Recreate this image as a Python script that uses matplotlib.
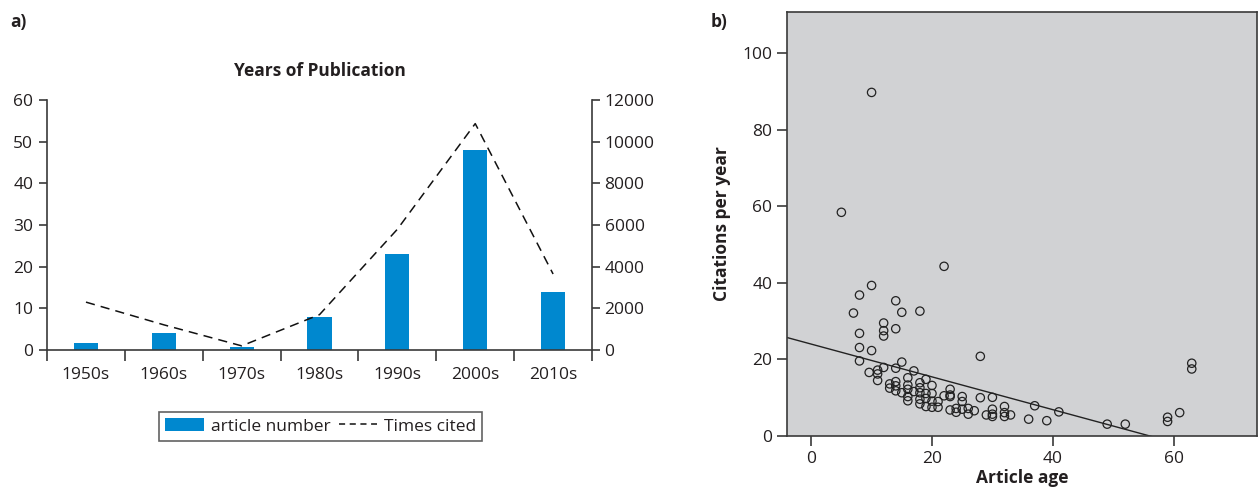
import matplotlib
matplotlib.use("Agg")
import matplotlib.pyplot as plt
import numpy as np
from matplotlib.patches import Patch
from matplotlib.lines import Line2D

plt.rcParams['font.family'] = ['Open Sans', 'DejaVu Sans']
plt.rcParams['font.size'] = 12.5

# a) dati
decades = ["1950s", "1960s", "1970s", "1980s", "1990s", "2000s", "2010s"]
article_number = [1.8, 4, 0.8, 8, 23, 48, 14]
times_cited = [2300, 1210, 200, 1700, 5800, 10870, 3650]

# b) dati
article_age = [10, 5, 22, 10, 8, 14, 7, 15, 18, 12, 12, 12, 14, 8, 8, 10, 8, 28, 15,
               12, 14, 9.6, 11, 11, 11, 17, 16, 19, 14, 13, 18, 20, 23, 14, 16, 13,
               14, 15, 16, 17, 18, 18, 16, 16, 19, 19, 18, 18, 19, 20, 20, 20, 21, 21,
               22, 23, 23, 23, 24, 24, 25, 25, 25, 26, 26, 27, 28, 29, 30, 30, 30, 30,
               32, 32, 32, 33, 36, 37, 39, 41, 49, 52, 59, 59, 61, 63, 63]
citations_per_year = [89.7, 58.4, 44.3, 39.3, 36.8, 35.3, 32.1, 32.3, 32.6, 29.5, 27.5,
                      26.1, 28.0, 26.8, 23.1, 22.3, 19.6, 20.8, 19.3, 17.9, 17.7, 16.6,
                      17.2, 16.2, 14.5, 17.0, 15.2, 14.8, 14.2, 13.6, 13.9, 13.2, 12.2,
                      13.1, 13.3, 12.5, 11.8, 11.3, 12.2, 11.6, 12.6, 11.3, 10.3, 9.2,
                      11.1, 9.8, 9.6, 8.4, 7.7, 11.1, 9.1, 7.5, 9.0, 7.5, 10.5, 10.3,
                      10.7, 6.8, 7.2, 6.2, 10.3, 9.0, 7.0, 7.2, 5.7, 6.6, 10.0, 5.5,
                      10.1, 7.0, 5.7, 5.1, 7.7, 6.1, 5.1, 5.5, 4.4, 7.9, 4.0, 6.3, 3.1,
                      3.1, 4.9, 3.8, 6.1, 19.0, 17.5]
fit_intercept = 24.0
fit_slope = -0.428

text_col = "#231f20"
spine_col = "#3a3a3a"

fig = plt.figure(figsize=(12.58, 4.93), dpi=100)

# ---- a) stabiņi + līnija
ax1 = fig.add_axes([0.0374, 0.290, 0.4332, 0.507])
x = np.arange(len(decades))
ax1.bar(x, article_number, width=0.31, color="#0088cf")
ax1.set_xlim(-0.5, len(decades) - 0.5)
ax1.set_ylim(0, 60)
ax1.set_yticks(range(0, 61, 10))
ax1.set_xticks(np.arange(-0.5, len(decades), 1))
ax1.set_xticklabels([])
ax1.set_xticks(x, minor=True)
ax1.set_xticklabels(decades, minor=True)
ax1.tick_params(axis="x", which="minor", length=0, pad=12)
ax1.tick_params(axis="x", which="major", length=8, width=1.2, color=spine_col)
ax1.tick_params(axis="y", length=6, width=1.2, color=spine_col, pad=4)
ax1.tick_params(colors=text_col, which="both")
ax1.tick_params(axis="x", which="major", color=spine_col)
ax1.tick_params(axis="y", color=spine_col)
for s in ["top", "right"]:
    ax1.spines[s].set_visible(False)
for s in ["left", "bottom"]:
    ax1.spines[s].set_color(spine_col)
    ax1.spines[s].set_linewidth(1.2)

ax2 = ax1.twinx()
ax2.plot(x, times_cited, color="#111111", linestyle=(0, (6, 4)), linewidth=1.1)
ax2.set_ylim(0, 12000)
ax2.set_yticks(range(0, 12001, 2000))
ax2.tick_params(axis="y", length=6, width=1.2, color=spine_col, labelcolor=text_col, pad=3)
for s in ["top", "left", "bottom"]:
    ax2.spines[s].set_visible(False)
ax2.spines["right"].set_color(spine_col)
ax2.spines["right"].set_linewidth(1.2)

fig.text(0.254, 0.856, "Years of Publication", ha="center", va="center",
         fontweight="bold", color=text_col)
fig.text(0.008, 0.955, "a)", ha="left", va="center", fontweight="bold", color=text_col)

handles = [Patch(facecolor="#0088cf", edgecolor="none"),
           Line2D([0], [0], color="#111111", linestyle=(0, (4, 3)), linewidth=1.1)]
leg = fig.legend(handles, ["article number", "Times cited"], ncol=2,
                 loc="center", bbox_to_anchor=(0.255, 0.135),
                 frameon=True, fancybox=False, edgecolor=spine_col,
                 handlelength=2.2, handletextpad=0.4, columnspacing=0.5,
                 borderpad=0.35, fontsize=12.5)
leg.get_frame().set_linewidth(1.2)
for t in leg.get_texts():
    t.set_color(text_col)

# ---- b) izkliedes diagramma
ax3 = fig.add_axes([0.6256, 0.1156, 0.3736, 0.8601])
ax3.set_facecolor("#d1d2d4")
ax3.scatter(article_age, citations_per_year, s=36, facecolors="none",
            edgecolors="#222222", linewidths=0.9, zorder=3)
xl = np.array([-4, 74])
ax3.plot(xl, fit_intercept + fit_slope * xl, color="#222222", linewidth=1.0, zorder=2)
ax3.set_xlim(-4, 73.8)
ax3.set_ylim(0, 110.7)
ax3.set_xticks([0, 20, 40, 60])
ax3.set_yticks(range(0, 101, 20))
ax3.tick_params(length=7, width=1.2, color=spine_col, labelcolor=text_col)
for s in ax3.spines.values():
    s.set_color(spine_col)
    s.set_linewidth(1.2)
ax3.set_xlabel("Article age", fontweight="bold", color=text_col, labelpad=2)
ax3.set_ylabel("Citations per year", fontweight="bold", color=text_col, labelpad=8)
fig.text(0.565, 0.955, "b)", ha="left", va="center", fontweight="bold", color=text_col)

fig.savefig("out.png", dpi=100)
